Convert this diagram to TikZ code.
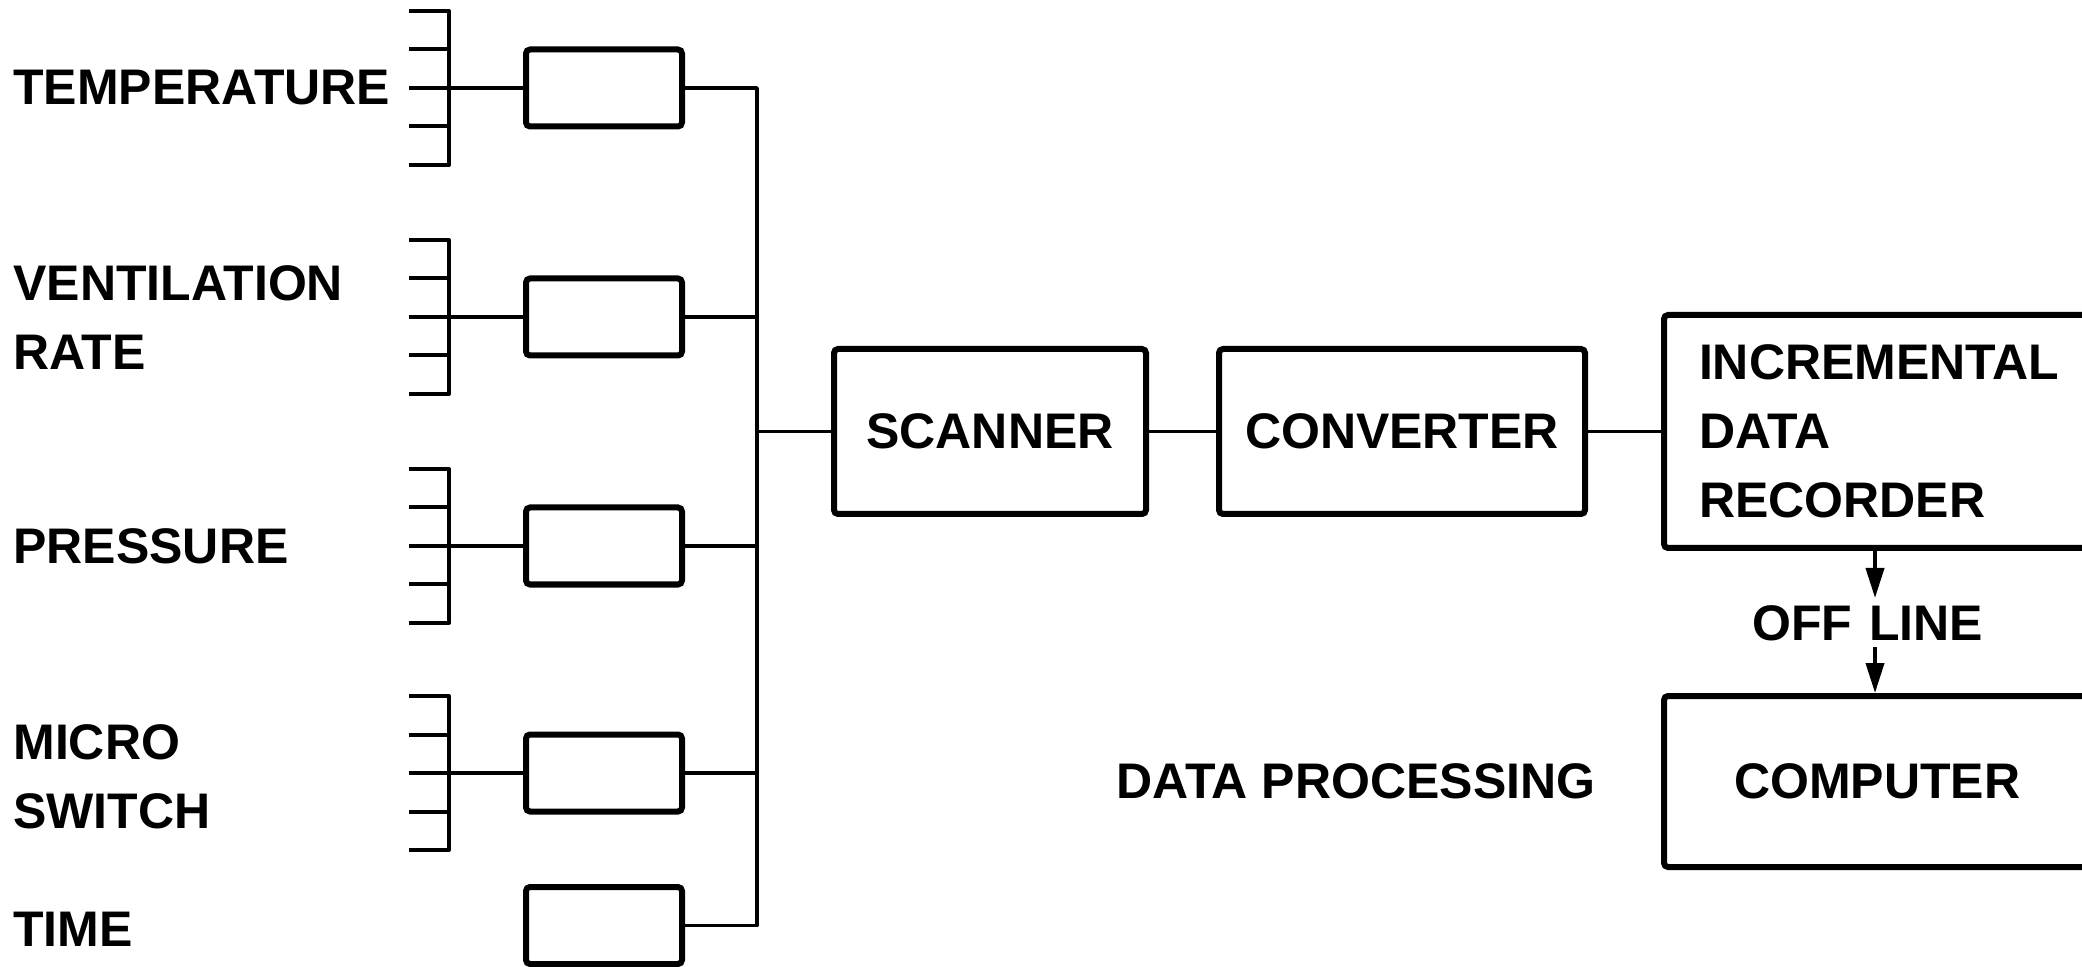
\documentclass[tikz,border=0pt]{standalone}
\usepackage{fontspec}
\setmainfont{Liberation Sans}
\usetikzlibrary{arrows.meta}
\begin{document}
\begin{tikzpicture}[x=0.5pt,y=-0.5pt,
  lbl/.style={font=\bfseries\fontsize{25}{34.5}\selectfont, inner sep=0pt, anchor=west, align=left},
  box/.style={draw, line width=3pt, rounded corners=2pt, minimum width=78pt, minimum height=38.5pt, inner sep=0pt},
  bigbox/.style={draw, line width=3pt, rounded corners=2pt, font=\bfseries\fontsize{25}{34.5}\selectfont, inner sep=0pt},
  wire/.style={line width=1.9pt},
  brk/.style={line width=2pt, line join=round},
  arr/.style={line width=1.9pt, -{Triangle[width=9pt,length=15pt]}}]

\useasboundingbox (0,0) rectangle (2082,967);
\fill[white] (0,0) rectangle (2082,967);
\clip (0,0) rectangle (2082,967);

% sensor inputs: terminal bracket, amplifier box and lead-in
\foreach \n/\m in {temp/88, vent/317, pres/546, micro/773} {
  \node[box] (\n) at (604,\m) {};
  \coordinate (\n In) at (409,\m);
  \draw[brk] (409,{\m-77}) -| (449,{\m+77}) -- (409,{\m+77});
  \draw[brk] (409,{\m-38.5}) -- (449,{\m-38.5}) (409,{\m+38.5}) -- (449,{\m+38.5});
  \draw[wire] (\n In) -- (\n.west);
}
\node[box] (time) at (604,925.5) {};

% input labels
\node[lbl] (lTemp) at (13,88) {TEMPERATURE};
\node[lbl] (lVent) at (13,318) {VENTILATION\\RATE};
\node[lbl] (lPres) at (13,546) {PRESSURE};
\node[lbl] (lMicro) at (13,777) {MICRO\\SWITCH};
\node[lbl] (lTime) at (13,929) {TIME};

% collecting bus
\coordinate (bus) at (757,431.5);
\draw[wire, line join=round] (temp.east) -| (bus) |- (time.east);
\foreach \n in {vent,pres,micro} \draw[wire] (\n.east) -- (\n.east -| bus);

% main chain
\node[bigbox, minimum width=156pt, minimum height=82.5pt] (scan) at (990,431.5) {SCANNER};
\node[bigbox, minimum width=183pt, minimum height=82.5pt] (conv) at (1402,431.5) {CONVERTER};
\node[bigbox, anchor=west, align=left, text width=220pt, inner xsep=17.5pt, minimum height=116.5pt] (rec) at (1661,431.5) {INCREMENTAL\\DATA\\RECORDER};
\node[bigbox, anchor=west, align=left, text width=200pt, inner xsep=35pt, minimum height=85.5pt] (comp) at (1661,781.5) {COMPUTER};

\draw[wire] (bus) -- (scan.west);
\draw[wire] (scan.east) -- (conv.west);
\draw[wire] (conv.east) -- (rec.west);

% off-line transfer
\node[lbl] (off) at (1752,623) {OFF\hspace{8.5pt}LINE};
\coordinate (aTop) at (1875,598);
\coordinate (aBot) at (1875,647);
\draw[arr] (rec.south -| aTop) -- (aTop);
\draw[arr] (aBot) -- (comp.north -| aBot);

\node[lbl, anchor=center] (dp) at (1356,781.5) {DATA\hspace{7pt}PROCESSING};
\end{tikzpicture}
\end{document}
